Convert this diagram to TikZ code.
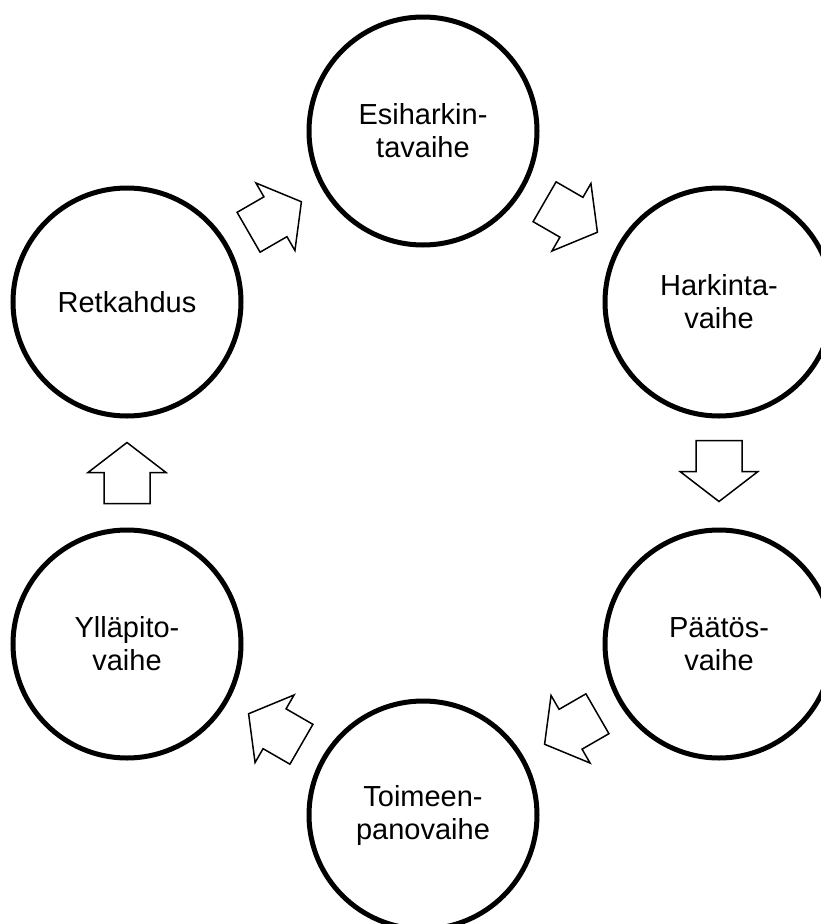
\documentclass[tikz,border=0pt]{standalone}
\usepackage{fontspec}
\setmainfont{Liberation Sans}
\usetikzlibrary{calc,positioning}
\tikzset{
  phase/.style={circle,draw=black,line width=5pt,fill=white,
   minimum size=228pt,inner sep=0pt,text width=160pt,align=center,
   font=\fontsize{29}{33}\selectfont},
  turnline/.style={draw=black,line width=1.5pt,fill=white,miter limit=20},
  turn/.pic={
   \draw [turnline] (-30.5,-23) -- (0.5,-23) -- (0.5,-39) -- (30.5,0)
     -- (0.5,39) -- (0.5,23) -- (-30.5,23) -- cycle;
  }
}

\begin{document}
\begin{tikzpicture}[x=1pt,y=-1pt]
  \useasboundingbox (0,0) rectangle (820,924);

  \node [phase] (esi)  at (423,131) {Esiharkin-\\tavaihe};
  \node [phase] (hark) at (719,302) {Harkinta-\\vaihe};
  \node [phase] (paat) at (719,644) {Päätös-\\vaihe};
  \node [phase] (toim) at (423,815) {Toimeen-\\panovaihe};
  \node [phase] (yll)  at (127,644) {Ylläpito-\\vaihe};
  \node [phase] (retk) at (127,302) {Retkahdus};

  % arrows between the phases
  \pic [rotate=-30] (a1) at (571,217) {turn};
  \pic [rotate=-90] (a2) at (719,471) {turn};
  \pic [rotate=-150] (a3) at (571,729) {turn};
  \pic [rotate=150] (a4) at (275,729) {turn};
  \pic [rotate=90] (a5) at (127,473) {turn};
  \pic [rotate=30] (a6) at (275,217) {turn};

\end{tikzpicture}
\end{document}
